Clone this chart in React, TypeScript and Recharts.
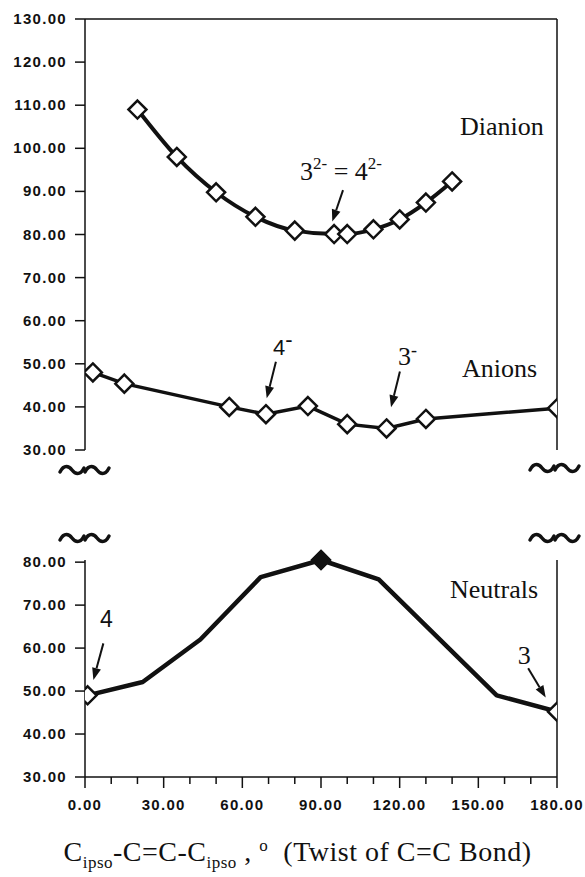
import React from 'react';
import { LineChart, Line, XAxis, YAxis, ReferenceLine, ReferenceDot } from 'recharts';

// twist angle (deg) and energy values
const dianionAngle = [20, 35, 50, 65, 80, 95, 100, 110, 120, 130, 140];
const dianionValue = [109, 98, 89.8, 84.1, 80.9, 80.1, 80.1, 81.2, 83.5, 87.4, 92.3];

const anionAngle = [3, 15, 55, 69, 85, 100, 115, 130, 180];
const anionValue = [48, 45.4, 40, 38.3, 40.2, 36, 35, 37.2, 39.7];

const neutralAngle = [1, 22, 44, 67, 90, 112, 157, 180];
const neutralValue = [49, 52.1, 62, 76.5, 80.5, 76, 49, 45.2];

const topTicks = [30, 40, 50, 60, 70, 80, 90, 100, 110, 120, 130];
const bottomTicks = [30, 40, 50, 60, 70, 80];
const angleTicks = [0, 10, 20, 30, 40, 50, 60, 70, 80, 90, 100, 110, 120, 130, 140, 150, 160, 170, 180];

const dianionData = dianionAngle.map((a, i) => ({ angle: a, value: dianionValue[i] }));
const anionData = anionAngle.map((a, i) => ({ angle: a, value: anionValue[i] }));
const neutralData = neutralAngle.map((a, i) => ({ angle: a, value: neutralValue[i] }));

const INK = '#111';
const tickFont: React.CSSProperties = {
  fontFamily: '"Liberation Sans", Arial, sans-serif',
  fontWeight: 700,
  fontSize: 15,
  letterSpacing: 1.3,
  fill: INK,
};
const serif = '"Liberation Serif", "Times New Roman", serif';
const sans = '"Liberation Sans", Arial, sans-serif';

const diamond = (cx: number, cy: number, filled: boolean, key: any) => {
  const r = 9;
  return (
    <polygon
      key={key}
      points={`${cx},${cy - r} ${cx + r},${cy} ${cx},${cy + r} ${cx - r},${cy}`}
      fill={filled ? INK : '#fff'}
      stroke={INK}
      strokeWidth={2.5}
    />
  );
};

const OpenDot = (p: any) => diamond(p.cx, p.cy, false, `d-${p.index}`);

const NeutralDot = (p: any) => {
  const last = neutralData.length - 1;
  if (p.index === 0 || p.index === last) return diamond(p.cx, p.cy, false, `n-${p.index}`);
  if (neutralAngle[p.index] === 90) return diamond(p.cx, p.cy, true, `n-${p.index}`);
  return <g key={`n-${p.index}`} />;
};

const YTick = (props: any) => {
  const { x, y, payload } = props;
  return (
    <text x={x} y={y} dy={5} textAnchor="end" style={tickFont}>
      {Number(payload.value).toFixed(2)}
    </text>
  );
};

const XTick = (props: any) => {
  const { x, y, payload } = props;
  const major = payload.value % 30 === 0;
  return (
    <g>
      <line x1={x} y1={y} x2={x} y2={y + (major ? 11 : 7)} stroke={INK} strokeWidth={1.5} />
      {major && (
        <text x={x} y={y + 33} textAnchor="middle" style={tickFont}>
          {Number(payload.value).toFixed(2)}
        </text>
      )}
    </g>
  );
};

const Arrow = (p: any) => {
  const { x1, y1, x2, y2 } = p;
  const dx = x2 - x1;
  const dy = y2 - y1;
  const len = Math.sqrt(dx * dx + dy * dy) || 1;
  const ux = dx / len;
  const uy = dy / len;
  const head = 12;
  const w = 4.5;
  const bx = x2 - ux * head;
  const by = y2 - uy * head;
  return (
    <g>
      <line x1={x1} y1={y1} x2={bx} y2={by} stroke={INK} strokeWidth={2} />
      <polygon
        points={`${x2},${y2} ${bx - uy * w},${by + ux * w} ${bx + uy * w},${by - ux * w}`}
        fill={INK}
      />
    </g>
  );
};

const label = (content: React.ReactNode, size = 26, family = serif) => (p: any) => (
  <text x={p.cx} y={p.cy} style={{ fontFamily: family, fontSize: size, fill: INK }}>
    {content}
  </text>
);

const axisLine = { stroke: INK, strokeWidth: 1.5 };

const Tilde = ({ cx, cy }: { cx: number; cy: number }) => (
  <path
    d={`M${cx - 12} ${cy + 2} C${cx - 8} ${cy - 6} ${cx - 3} ${cy - 4} ${cx} ${cy} C${cx + 3} ${cy + 4} ${cx + 8} ${cy + 6} ${cx + 12} ${cy - 2}`}
    fill="none"
    stroke={INK}
    strokeWidth={3.5}
    strokeLinecap="round"
  />
);

export default function App() {
  return (
    <div style={{ position: 'absolute', left: 0, top: 0, width: 585, height: 877, background: '#fff' }}>
      <div style={{ position: 'absolute', left: 0, top: 0 }}>
        <LineChart width={585} height={460} margin={{ top: 19, right: 28, bottom: 10, left: 0 }}>
          <XAxis type="number" dataKey="angle" domain={[0, 180]} allowDataOverflow hide />
          <YAxis
            type="number"
            domain={[30, 130]}
            ticks={topTicks}
            interval={0}
            width={85}
            tickSize={10}
            tickMargin={8}
            tick={<YTick />}
            tickLine={{ stroke: INK, strokeWidth: 1.5 }}
            axisLine={axisLine}
          />
          {/* frame: top and right edges */}
          <ReferenceLine y={130} stroke={INK} strokeWidth={1.5} />
          <ReferenceLine x={180} stroke={INK} strokeWidth={1.5} />
          <Line
            data={dianionData}
            dataKey="value"
            type="monotone"
            stroke={INK}
            strokeWidth={4}
            dot={OpenDot}
            isAnimationActive={false}
          />
          <Line
            data={anionData}
            dataKey="value"
            type="linear"
            stroke={INK}
            strokeWidth={3.5}
            dot={OpenDot}
            isAnimationActive={false}
          />
          <ReferenceDot x={143} y={103} r={0} shape={label('Dianion')} />
          <ReferenceDot
            x={82}
            y={92.6}
            r={0}
            shape={label(
              <>
                3<tspan dy={-11} fontSize={17}>2-</tspan>
                <tspan dy={11}> = 4</tspan>
                <tspan dy={-11} fontSize={17}>2-</tspan>
              </>
            )}
          />
          <ReferenceLine segment={[{ x: 98.4, y: 90.3 }, { x: 94.3, y: 83 }]} shape={Arrow} />
          <ReferenceDot
            x={71.7}
            y={52}
            r={0}
            shape={label(
              <>
                4<tspan dy={-8}>-</tspan>
              </>,
              22,
              sans
            )}
          />
          <ReferenceLine segment={[{ x: 72.8, y: 50.5 }, { x: 69.3, y: 42 }]} shape={Arrow} />
          <ReferenceDot
            x={119.4}
            y={49.7}
            r={0}
            shape={label(
              <>
                3<tspan dy={-9} fontSize={18}>-</tspan>
              </>
            )}
          />
          <ReferenceLine segment={[{ x: 120.1, y: 48.2 }, { x: 116.7, y: 39.9 }]} shape={Arrow} />
          <ReferenceDot x={143.8} y={46.9} r={0} shape={label('Anions')} />
        </LineChart>
      </div>

      <div style={{ position: 'absolute', left: 0, top: 540 }}>
        <LineChart width={585} height={287} margin={{ top: 20, right: 28, bottom: 0, left: 0 }}>
          <XAxis
            type="number"
            dataKey="angle"
            domain={[0, 180]}
            allowDataOverflow
            ticks={angleTicks}
            interval={0}
            height={50}
            tickSize={0}
            tickMargin={0}
            tickLine={false}
            tick={<XTick />}
            axisLine={axisLine}
          />
          <YAxis
            type="number"
            domain={[30, 80]}
            ticks={bottomTicks}
            interval={0}
            width={85}
            tickSize={10}
            tickMargin={8}
            tick={<YTick />}
            tickLine={{ stroke: INK, strokeWidth: 1.5 }}
            axisLine={axisLine}
          />
          <ReferenceLine x={180} stroke={INK} strokeWidth={1.5} />
          <Line
            data={neutralData}
            dataKey="value"
            type="linear"
            stroke={INK}
            strokeWidth={4.5}
            strokeLinejoin="round"
            dot={NeutralDot}
            isAnimationActive={false}
          />
          <ReferenceDot x={139.2} y={71.7} r={0} shape={label('Neutrals')} />
          <ReferenceDot x={5.7} y={65} r={0} shape={label('4', 23, sans)} />
          <ReferenceLine segment={[{ x: 7, y: 61.1 }, { x: 3.2, y: 52.6 }]} shape={Arrow} />
          <ReferenceDot x={165} y={56.2} r={0} shape={label('3')} />
          <ReferenceLine segment={[{ x: 169, y: 55.3 }, { x: 175.7, y: 48.5 }]} shape={Arrow} />
        </LineChart>
      </div>

      <svg width={585} height={877} style={{ position: 'absolute', left: 0, top: 0, pointerEvents: 'none' }}>
        <Tilde cx={72} cy={470} />
        <Tilde cx={97} cy={470} />
        <Tilde cx={542} cy={468} />
        <Tilde cx={567} cy={468} />
        <Tilde cx={72} cy={538} />
        <Tilde cx={97} cy={538} />
        <Tilde cx={542} cy={538} />
        <Tilde cx={567} cy={538} />
      </svg>

      <div
        style={{
          position: 'absolute',
          left: 25,
          top: 836,
          width: 545,
          textAlign: 'center',
          fontFamily: serif,
          fontSize: 28,
          letterSpacing: 0.5,
          color: INK,
          whiteSpace: 'nowrap',
        }}
      >
        C<sub style={{ fontSize: 17 }}>ipso</sub>-C=C-C<sub style={{ fontSize: 17 }}>ipso</sub> ,&nbsp;
        <sup style={{ fontSize: 17 }}>o</sup>&nbsp;&nbsp;(Twist of C=C Bond)
      </div>
    </div>
  );
}
